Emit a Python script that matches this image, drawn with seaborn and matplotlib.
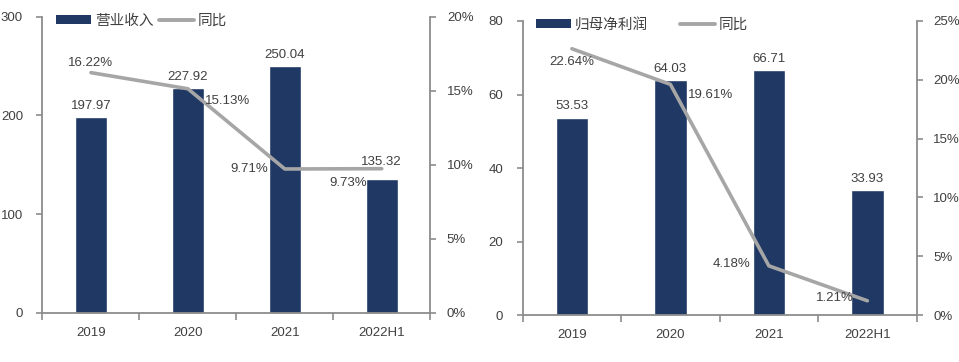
import numpy as np
import pandas as pd
import seaborn as sns
import matplotlib.pyplot as plt
from matplotlib.patches import Patch
from matplotlib.lines import Line2D

years = ["2019", "2020", "2021", "2022H1"]
revenue = [197.97, 227.92, 250.04, 135.32]
revenue_yoy = [16.22, 15.13, 9.71, 9.73]
profit = [53.53, 64.03, 66.71, 33.93]
profit_yoy = [22.64, 19.61, 4.18, 1.21]

bar_color = "#1F3864"
line_color = "#A6A6A6"
spine_color = "#8C8C8C"
text_color = "#404040"

sns.set_theme(style="white")
plt.rcParams["font.family"] = ["Liberation Sans", "Noto Sans CJK SC", "DejaVu Sans"]
plt.rcParams["font.size"] = 9.5


def draw_panel(fig, rect, values, yoy, bar_name, ymax, ystep, rmax, rstep,
               bar_offsets, yoy_offsets, leg_spacing):
    ax = fig.add_axes(rect)
    df = pd.DataFrame({"year": years, "value": values, "yoy": yoy})
    sns.barplot(data=df, x="year", y="value", color=bar_color, width=0.33,
                saturation=1, ax=ax)
    ax.set_xlim(-0.5, 3.5)
    ax.set_ylim(0, ymax)
    ax.set_yticks(np.arange(0, ymax + 1, ystep))
    ax.set_xlabel("")
    ax.set_ylabel("")

    ax2 = ax.twinx()
    sns.lineplot(x=np.arange(len(years)), y=yoy, color=line_color, linewidth=2.6,
                 ax=ax2)
    ax2.set_ylim(0, rmax)
    ax2.set_yticks(np.arange(0, rmax + 0.1, rstep))
    ax2.set_yticklabels([f"{int(t)}%" for t in np.arange(0, rmax + 0.1, rstep)])

    # spines / ticks
    for a in (ax, ax2):
        for s in a.spines.values():
            s.set_visible(False)
    ax.spines["left"].set_visible(True)
    ax.spines["bottom"].set_visible(True)
    ax2.spines["right"].set_visible(True)
    for s in (ax.spines["left"], ax.spines["bottom"], ax2.spines["right"]):
        s.set_color(spine_color)
        s.set_linewidth(1.3)

    ax.set_xticks(np.arange(-0.5, 4, 1), minor=True)
    ax.tick_params(axis="x", which="major", length=0, pad=10, colors=text_color,
                   labelsize=9.5)
    ax.tick_params(axis="x", which="minor", length=5, width=1.2, color=spine_color,
                   direction="out", bottom=True)
    ax.tick_params(axis="y", length=4, width=1.2, color=spine_color, direction="out",
                   left=True, labelcolor=text_color, labelsize=9.5, pad=10)
    ax2.tick_params(axis="y", length=4, width=1.2, color=spine_color, direction="out",
                    right=True, labelcolor=text_color, labelsize=9.5, pad=8)

    # labels
    for i, v in enumerate(values):
        dx, dy = bar_offsets[i]
        ax.annotate(f"{v:.2f}", (i, v), xytext=(dx, dy), textcoords="offset pixels",
                    ha="center", va="center", color=text_color, fontsize=9.5)
    for i, v in enumerate(yoy):
        dx, dy, ha = yoy_offsets[i]
        ax2.annotate(f"{v:.2f}%", (i, v), xytext=(dx, dy), textcoords="offset pixels",
                     ha=ha, va="center", color=text_color, fontsize=9.5)

    handles = [Patch(facecolor=bar_color, edgecolor="none"),
               Line2D([0], [0], color=line_color, linewidth=2.8)]
    ax.legend(handles, [bar_name, "同比"], loc="upper left", ncol=2, frameon=False,
              bbox_to_anchor=(0.02, 1.03), handlelength=2.4, handleheight=0.6,
              handletextpad=0.25, columnspacing=leg_spacing, fontsize=10.5,
              labelcolor=text_color, borderaxespad=0)
    return ax


fig = plt.figure(figsize=(9.59, 3.62), dpi=100)

draw_panel(fig, [0.0443, 0.1362, 0.4043, 0.8177], revenue, revenue_yoy, "营业收入",
           300, 100, 20, 5,
           [(0, 11), (0, 11), (0, 11), (0, 17)],
           [(0, 10, "center"), (40, -12, "center"), (-17, 0, "right"),
            (-15, -14, "right")],
           0.4)

draw_panel(fig, [0.5450, 0.1298, 0.4108, 0.8122], profit, profit_yoy, "归母净利润",
           80, 20, 25, 5,
           [(0, 12), (0, 11), (0, 11), (0, 11)],
           [(0, -13, "center"), (18, -11, "left"), (-18, 2, "right"),
            (-14, 3, "right")],
           2.2)

fig.savefig("out.png", dpi=100, facecolor="white")
